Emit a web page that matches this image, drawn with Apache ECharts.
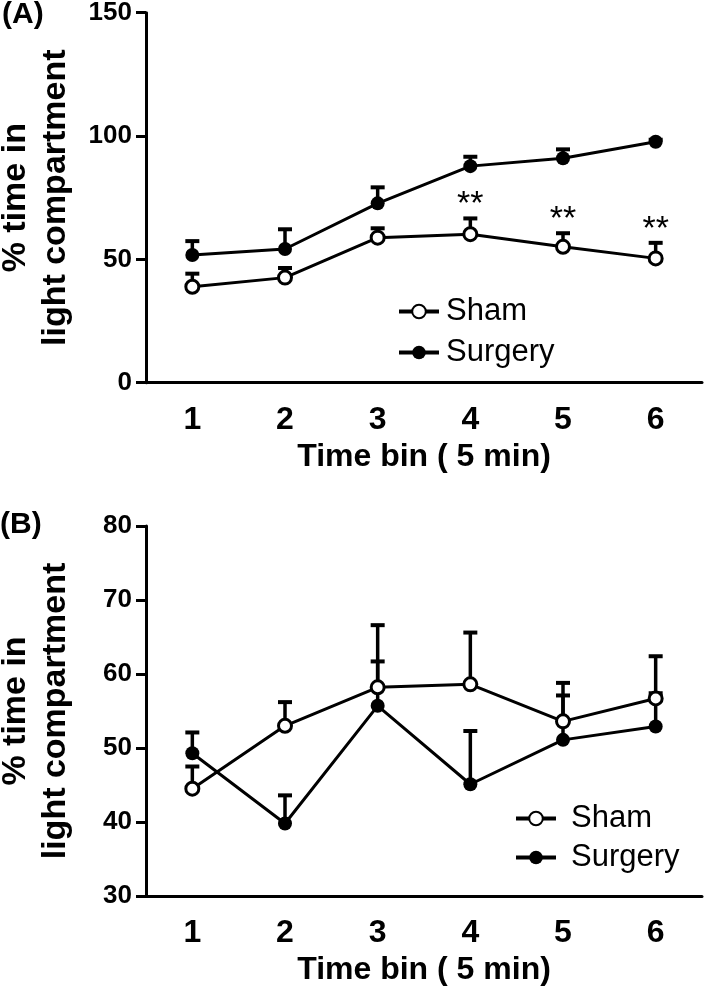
<!DOCTYPE html>
<html><head><meta charset="utf-8">
<script src="https://cdn.jsdelivr.net/npm/echarts@6/dist/echarts.min.js"></script>
<style>html,body{margin:0;padding:0;background:#fff}#c{width:709px;height:995px}</style>
</head><body><div id="c"></div>
<script>
// ---- data ----
const timeBins = ['1', '2', '3', '4', '5', '6'];
const yTicksA = [0, 50, 100, 150];
const yTicksB = [30, 40, 50, 60, 70, 80];
// Panel A
const shamA    = [38.9, 42.6, 58.8, 60.2, 55.1, 50.4];
const shamAErr = [5.3, 3.9, 3.8, 6.4, 5.5, 6.3];
const surgA    = [51.8, 54.2, 72.7, 87.8, 91.0, 97.7];
const surgAErr = [5.6, 8.0, 6.5, 3.8, 3.6, 0.8];
const sigA     = ['', '', '', '**', '**', '**'];
// Panel B
const shamB    = [44.5, 53.0, 58.2, 58.6, 53.6, 56.7];
const shamBErr = [3.0, 3.2, 3.5, 7.0, 5.2, 5.7];
const surgB    = [49.3, 39.8, 55.7, 45.1, 51.1, 52.9];
const surgBErr = [2.8, 3.8, 10.9, 7.2, 6.0, 4.5];

const FONT = "'Liberation Sans', Arial, Helvetica, sans-serif";
const chart = echarts.init(document.getElementById('c'), null, {renderer: 'canvas'});

function errSeries(name, means, errs, gi) {
  return {
    type: 'custom', name: name + ' SEM', xAxisIndex: gi, yAxisIndex: gi, z: 1, silent: true,
    data: means.map((m, i) => [i, m, errs[i]]),
    encode: {x: 0, y: [1]},
    renderItem: function (params, api) {
      const x = api.value(0), m = api.value(1), e = api.value(2);
      const p0 = api.coord([x, m]);
      const p1 = api.coord([x, m + e]);
      return {type: 'group', children: [
        {type: 'line', shape: {x1: p0[0], y1: p0[1], x2: p1[0], y2: p1[1]}, style: {stroke: '#000', lineWidth: 3.5}},
        {type: 'rect', shape: {x: p1[0] - 7, y: p1[1] - 2, width: 14, height: 4}, style: {fill: '#000'}}
      ]};
    }
  };
}
function lineSeries(name, vals, hollow, gi) {
  return {
    type: 'line', name: name, xAxisIndex: gi, yAxisIndex: gi, z: 3,
    data: vals, symbol: 'circle', symbolSize: hollow ? 13 : 14,
    itemStyle: hollow ? {color: '#fff', borderColor: '#000', borderWidth: 3} : {color: '#000', borderColor: '#000', borderWidth: 0},
    lineStyle: {color: '#000', width: 3},
    emphasis: {disabled: true}, animation: false
  };
}
function starSeries(means, errs, sigs, gi) {
  return {
    type: 'custom', name: 'sig', xAxisIndex: gi, yAxisIndex: gi, z: 4, silent: true,
    data: means.map((m, i) => [i, m + errs[i]]),
    renderItem: function (params, api) {
      const s = sigs[params.dataIndex];
      if (!s) return null;
      const p = api.coord([api.value(0), api.value(1)]);
      return {type: 'text', x: p[0], y: p[1] - 13.5,
        style: {text: s, fontSize: 34, fontFamily: FONT, fill: '#000', align: 'center', verticalAlign: 'middle'}};
    }
  };
}
function xAxis(gi) {
  return {
    type: 'category', gridIndex: gi, data: timeBins, boundaryGap: true,
    axisLine: {lineStyle: {color: '#000', width: 3}},
    axisTick: {alignWithLabel: true, length: 10, lineStyle: {color: '#000', width: 3}},
    axisLabel: {color: '#000', fontSize: 32, fontWeight: 'bold', fontFamily: FONT, margin: 21, lineHeight: 32},
    splitLine: {show: false},
    name: 'Time bin ( 5 min)', nameLocation: 'middle', nameGap: 58,
    nameTextStyle: {color: '#000', fontSize: 32, fontWeight: 'bold', fontFamily: FONT, lineHeight: 32}
  };
}
function yAxis(gi, ticks) {
  return {
    type: 'value', gridIndex: gi, min: ticks[0], max: ticks[ticks.length - 1], interval: ticks[1] - ticks[0],
    axisLine: {show: true, lineStyle: {color: '#000', width: 3}},
    axisTick: {show: true, length: 10, lineStyle: {color: '#000', width: 3}},
    axisLabel: {color: '#000', fontSize: 26, fontWeight: 'bold', fontFamily: FONT, margin: 14},
    splitLine: {show: false},
    name: '% time in\nlight compartment', nameLocation: 'middle', nameRotate: 90, nameGap: 70,
    nameTextStyle: {color: '#000', fontSize: 34, fontWeight: 'bold', fontFamily: FONT, lineHeight: 40, align: 'center'}
  };
}
function legend(left, top, pad, gap) {
  return {
    orient: 'vertical', left: left, top: top, itemWidth: 40, itemHeight: 17, itemGap: gap,
    data: ['Sham', 'Surgery'], selectedMode: false,
    lineStyle: {width: 4, color: '#000', opacity: 1},
    textStyle: {color: '#000', fontSize: 31, fontFamily: FONT, padding: [0, 0, 0, pad]}
  };
}

chart.setOption({
  animation: false,
  backgroundColor: '#fff',
  grid: [
    {left: 146, right: 7, top: 12.7, height: 370, outerBoundsMode: 'none'},
    {left: 146, right: 7, top: 526, height: 370, outerBoundsMode: 'none'}
  ],
  xAxis: [xAxis(0), xAxis(1)],
  yAxis: [yAxis(0, yTicksA), yAxis(1, yTicksB)],
  legend: [legend(392, 291, 2, 10), legend(509, 798, 10, 8)],
  graphic: [
    {type: 'text', left: 2, top: 0, style: {text: '(A)', fontSize: 30, fontWeight: 'bold', fontFamily: FONT, fill: '#000'}},
    {type: 'text', left: 0, top: 510, style: {text: '(B)', fontSize: 30, fontWeight: 'bold', fontFamily: FONT, fill: '#000'}}
  ],
  series: [
    errSeries('Sham A', shamA, shamAErr, 0),
    errSeries('Surgery A', surgA, surgAErr, 0),
    lineSeries('Sham', shamA, true, 0),
    lineSeries('Surgery', surgA, false, 0),
    starSeries(shamA, shamAErr, sigA, 0),
    errSeries('Sham B', shamB, shamBErr, 1),
    errSeries('Surgery B', surgB, surgBErr, 1),
    lineSeries('Sham', shamB, true, 1),
    lineSeries('Surgery', surgB, false, 1)
  ]
});
</script></body></html>
